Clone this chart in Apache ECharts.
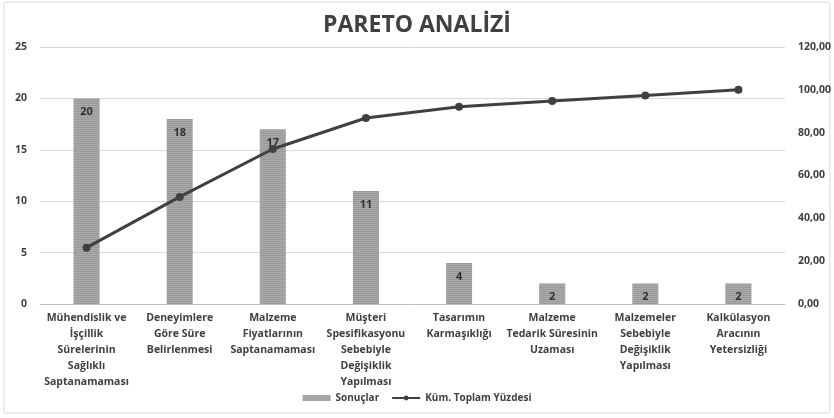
<!DOCTYPE html>
<html>
<head>
<meta charset="utf-8">
<script src="https://cdn.jsdelivr.net/npm/echarts@6/dist/echarts.min.js"></script>
<style>
  html, body { margin: 0; padding: 0; background: #fff; }
  #main { width: 834px; height: 418px; }
</style>
</head>
<body>
<div id="main"></div>
<script>
// categories, bar values (Sonuçlar) and cumulative percent
var categories = [
  'Mühendislik ve\nİşçillik\nSürelerinin\nSağlıklı\nSaptanamaması',
  'Deneyimlere\nGöre Süre\nBelirlenmesi',
  'Malzeme\nFiyatlarının\nSaptanamaması',
  'Müşteri\nSpesifikasyonu\nSebebiyle\nDeğişiklik\nYapılması',
  'Tasarımın\nKarmaşıklığı',
  'Malzeme\nTedarik Süresinin\nUzaması',
  'Malzemeler\nSebebiyle\nDeğişiklik\nYapılması',
  'Kalkülasyon\nAracının\nYetersizliği'
];
var sonuclar = [20, 18, 17, 11, 4, 2, 2, 2];
var kumYuzde = [26.32, 50.00, 72.37, 86.84, 92.11, 94.74, 97.37, 100.00];
var leftTicks = { min: 0, max: 25, interval: 5 };
var rightTicks = { min: 0, max: 120, interval: 20 };

var font = '"Open Sans", "Noto Sans", sans-serif';

// striped gray fill like the original bars
var pat = document.createElement('canvas');
pat.width = 4; pat.height = 2;
var pc = pat.getContext('2d');
pc.fillStyle = '#a9a9a9'; pc.fillRect(0, 0, 4, 1);
pc.fillStyle = '#9a9a9a'; pc.fillRect(0, 1, 4, 1);

var chartDom = document.getElementById('main');
var myChart = echarts.init(chartDom);

var option = {
  animation: false,
  textStyle: { fontFamily: font },
  title: {
    text: 'PARETO ANALİZİ',
    left: 'center',
    top: 9,
    textStyle: { fontFamily: font, fontSize: 23, fontWeight: 'bold', color: '#404040' }
  },
  graphic: [{
    type: 'rect',
    shape: { x: 4, y: 2, width: 826, height: 411, r: 2 },
    style: { fill: 'none', stroke: '#d9d9d9', lineWidth: 1 },
    silent: true
  }],
  legend: {
    bottom: 10,
    left: 'center',
    itemGap: 12,
    textStyle: { fontFamily: font, fontSize: 10, fontWeight: 'bold', color: '#404040' },
    data: [
      { name: 'Sonuçlar', icon: 'rect', itemStyle: { color: '#a6a6a6' } },
      { name: 'Küm. Toplam Yüzdesi' }
    ],
    itemWidth: 28,
    itemHeight: 6
  },
  grid: { left: 40, right: 49, top: 47, bottom: 114 },
  xAxis: {
    type: 'category',
    data: categories,
    axisLine: { lineStyle: { color: '#bfbfbf', width: 1 } },
    axisTick: { show: false },
    axisLabel: {
      interval: 0,
      margin: 6,
      fontFamily: font,
      fontSize: 10.5,
      fontWeight: 'bold',
      color: '#404040',
      lineHeight: 16
    }
  },
  yAxis: [
    {
      type: 'value',
      min: leftTicks.min, max: leftTicks.max, interval: leftTicks.interval,
      axisLine: { show: false },
      axisTick: { show: false },
      splitLine: { lineStyle: { color: '#d9d9d9' } },
      axisLabel: { margin: 13, fontFamily: font, fontSize: 10.5, fontWeight: 'bold', color: '#404040' }
    },
    {
      type: 'value',
      min: rightTicks.min, max: rightTicks.max, interval: rightTicks.interval,
      axisLine: { show: false },
      axisTick: { show: false },
      splitLine: { show: false },
      axisLabel: {
        margin: 13, fontFamily: font, fontSize: 10.5, fontWeight: 'bold', color: '#404040',
        formatter: function (v) { return v.toFixed(2).replace('.', ','); }
      }
    }
  ],
  series: [
    {
      name: 'Sonuçlar',
      type: 'bar',
      data: sonuclar,
      barWidth: '28%',
      itemStyle: { color: { image: pat, repeat: 'repeat' } },
      label: {
        show: true,
        position: 'insideTop',
        distance: 8,
        fontFamily: font,
        fontSize: 11,
        fontWeight: 'bold',
        color: '#303030'
      }
    },
    {
      name: 'Küm. Toplam Yüzdesi',
      type: 'line',
      yAxisIndex: 1,
      data: kumYuzde,
      symbol: 'circle',
      symbolSize: 8,
      lineStyle: { color: '#404040', width: 3 },
      itemStyle: { color: '#404040' }
    }
  ]
};

option && myChart.setOption(option);
</script>
</body>
</html>
